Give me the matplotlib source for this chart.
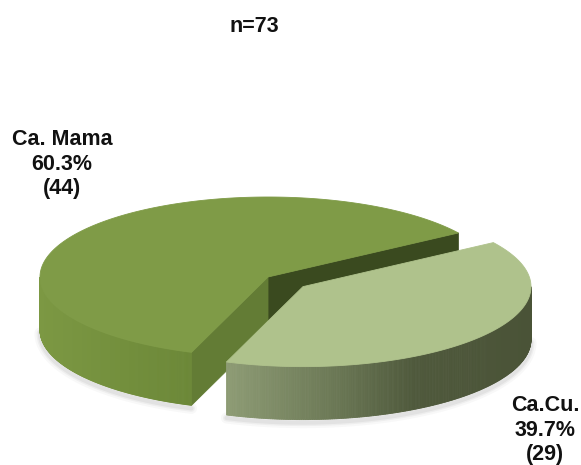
import numpy as np
import matplotlib
matplotlib.use("Agg")
import matplotlib.pyplot as plt
from matplotlib.patches import Polygon
from matplotlib.colors import to_rgb

# Data
labels = ["Ca. Mama", "Ca.Cu."]
counts = [44, 29]
top_colors = ["#7f9b47", "#afc28c"]
# side-face gradient stops (left -> right) per slice
side_stops = [
    [(0.0, "#7c9843"), (1.0, "#6c8838")],
    [(0.0, "#8e9c75"), (0.35, "#6c7956"), (0.62, "#4f593c"), (1.0, "#4a5337")],
]
face_end_color = "#637c35"      # radial face on the front edge of the big slice
face_start_color = "#3a4a1f"    # radial face on the back edge of the big slice

total = sum(counts)
percents = [100.0 * c / total for c in counts]

# Projection / layout (pixel space)
W, H = 581, 465
CX, CY = 268.0, 277.0
RA, RB = 228.0, 80.0
DEPTH = 53.0
EXPLODE = [0.0, 0.195]
START_DEG = 33.4

fig = plt.figure(figsize=(W / 100, H / 100), dpi=100)
ax = fig.add_axes([0, 0, 1, 1])
ax.set_xlim(0, W)
ax.set_ylim(H, 0)
ax.axis("off")


def point(cx, cy, t, dz=0.0):
    return cx + RA * np.cos(t), cy - RB * np.sin(t) + dz


def lerp_color(stops, s):
    s = min(max(s, 0.0), 1.0)
    for (s0, c0), (s1, c1) in zip(stops[:-1], stops[1:]):
        if s <= s1:
            f = 0.0 if s1 == s0 else (s - s0) / (s1 - s0)
            a, b = np.array(to_rgb(c0)), np.array(to_rgb(c1))
            return tuple(a + (b - a) * f)
    return to_rgb(stops[-1][1])


# slice angles
angles = []
a0 = np.radians(START_DEG)
for c in counts:
    a1 = a0 + 2 * np.pi * c / total
    angles.append((a0, a1))
    a0 = a1

centers = []
for (t0, t1), e in zip(angles, EXPLODE):
    mid = 0.5 * (t0 + t1)
    centers.append((CX + e * RA * np.cos(mid), CY - e * RB * np.sin(mid)))

# soft shadow under the front rims
for i, ((t0, t1), (cx, cy)) in enumerate(zip(angles, centers)):
    lo, hi = max(t0, np.pi), min(t1, 2 * np.pi)
    if hi > lo:
        ts = np.linspace(lo, hi, 200)
        xs, ys = point(cx, cy, ts, DEPTH + 3)
        for lw, al in [(8, 0.04), (5, 0.06), (3, 0.08)]:
            ax.plot(xs, ys, color="#555555", lw=lw, alpha=al,
                    solid_capstyle="round", zorder=1)

zbase = 2
for i, ((t0, t1), (cx, cy)) in enumerate(zip(angles, centers)):
    z = zbase + 10 * i
    # radial faces (visible when their outward normal faces the viewer)
    for t, col, sign in [(t0, face_start_color, -1), (t1, face_end_color, 1)]:
        normal = t + sign * np.pi / 2
        if np.sin(normal) < 0:
            px, py = point(cx, cy, t)
            quad = [(cx, cy), (px, py), (px, py + DEPTH), (cx, cy + DEPTH)]
            ax.add_patch(Polygon(quad, closed=True, facecolor=col,
                                 edgecolor=col, lw=0.6, zorder=z))
    # outer side, front half only, shaded left to right
    lo, hi = max(t0, np.pi), min(t1, 2 * np.pi)
    if hi > lo:
        ts = np.linspace(lo, hi, 240)
        xs, ys = point(cx, cy, ts)
        xmin, xmax = xs.min(), xs.max()
        for k in range(len(ts) - 1):
            xm = 0.5 * (xs[k] + xs[k + 1])
            col = lerp_color(side_stops[i], (xm - xmin) / (xmax - xmin))
            quad = [(xs[k], ys[k]), (xs[k + 1], ys[k + 1]),
                    (xs[k + 1], ys[k + 1] + DEPTH), (xs[k], ys[k] + DEPTH)]
            ax.add_patch(Polygon(quad, closed=True, facecolor=col,
                                 edgecolor=col, lw=0.6, zorder=z + 1))
    # top face
    ts = np.linspace(t0, t1, 300)
    xs, ys = point(cx, cy, ts)
    verts = [(cx, cy)] + list(zip(xs, ys))
    ax.add_patch(Polygon(verts, closed=True, facecolor=top_colors[i],
                         edgecolor=top_colors[i], lw=0.6, zorder=z + 2))

font = dict(family="Liberation Sans", weight="bold", fontsize=15.5,
            color="#111111", ha="center", va="center", linespacing=1.2)

ax.text(254, 26, f"n={total}", **font)
label_pos = [(62, 164), (545, 430)]
for lab, pct, c, (lx, ly) in zip(labels, percents, counts, label_pos):
    ax.text(lx, ly, f"{lab}\n{pct:.1f}%\n({c})", **font)

fig.savefig("out.png", dpi=100)
